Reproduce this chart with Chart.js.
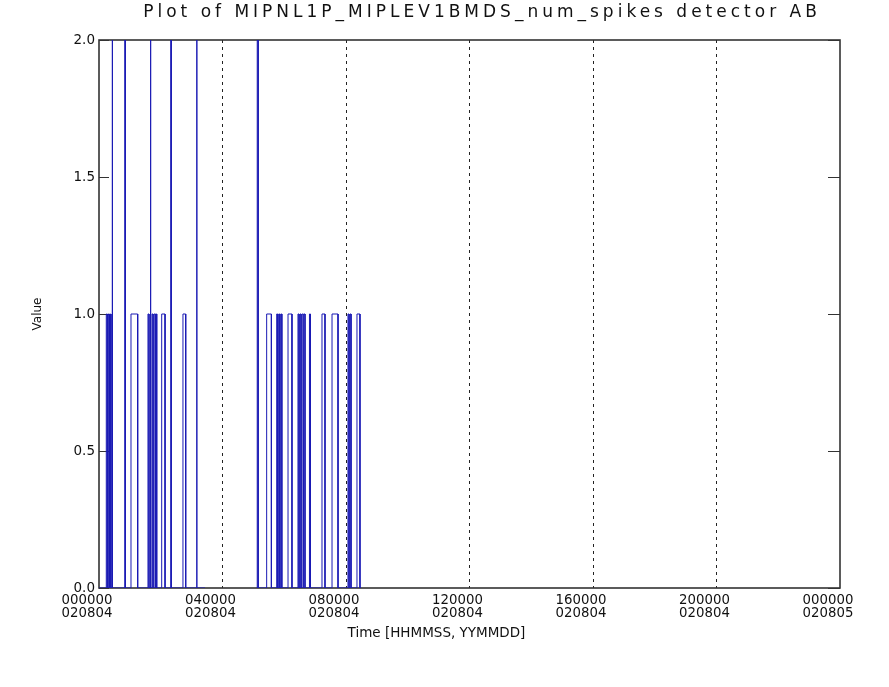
<!DOCTYPE html>
<html>
<head>
<meta charset="utf-8">
<script src="https://cdn.jsdelivr.net/npm/chart.js@4"></script>
<style>
  html, body { margin: 0; padding: 0; background: #ffffff; }
  canvas { display: block; }
</style>
</head>
<body>
<canvas id="c" width="889" height="687"></canvas>
<script>
// ---- data (seconds since 000000 020804) ----
const blockStart = [0, 18390];
const blockEnd   = [12360, 30550];

const pulseStart = [850, 1090, 1330, 1540, 3030, 3730, 5710, 5950, 6030, 6180, 6420, 6610, 7310, 8390, 9790, 11390,
                    18450, 19550, 20720, 20960, 21200, 22040, 23200, 23440, 23680, 23900, 24540, 26000, 27170, 29030, 29270, 30080];
const pulseEnd   = [970, 1210, 1400, 1570, 3060, 4510, 5830, 6010, 6060, 6300, 6540, 6730, 7700, 8420, 10110, 11420,
                    18560, 20100, 20840, 21080, 21320, 22500, 23320, 23560, 23800, 24020, 24660, 26350, 27870, 29150, 29390, 30430];
const pulseValue = [1, 1, 1, 2, 2, 1, 1, 1, 2, 1, 1, 1, 1, 2, 1, 2,
                    2, 1, 1, 1, 1, 1, 1, 1, 1, 1, 1, 1, 1, 1, 1, 1];

const xTickTimes = ['000000', '040000', '080000', '120000', '160000', '200000', '000000'];
const xTickDates = ['020804', '020804', '020804', '020804', '020804', '020804', '020805'];
const yTickLabels = ['0.0', '0.5', '1.0', '1.5', '2.0'];

function buildBlock(b) {
  const pts = [{x: blockStart[b], y: 0}];
  for (let i = 0; i < pulseStart.length; i++) {
    if (pulseStart[i] >= blockStart[b] && pulseEnd[i] <= blockEnd[b]) {
      pts.push({x: pulseStart[i], y: 0}, {x: pulseStart[i], y: pulseValue[i]},
               {x: pulseEnd[i], y: pulseValue[i]}, {x: pulseEnd[i], y: 0});
    }
  }
  pts.push({x: blockEnd[b], y: 0});
  return pts;
}

const lineColor = '#1a1ab4';
const datasets = blockStart.map((_, b) => ({
  data: buildBlock(b),
  borderColor: lineColor,
  borderWidth: 1,
  pointRadius: 0,
  tension: 0,
  fill: false
}));

const framePlugin = {
  id: 'frame',
  afterInit(chart) {
    const tb = chart.titleBlock;
    if (tb) {
      const orig = tb.draw;
      tb.draw = function (...args) {
        const c = this.ctx;
        c.save();
        c.letterSpacing = '4px';
        c.translate(62, 0);
        orig.apply(this, args);
        c.restore();
      };
    }
  },
  beforeDraw(chart) {
    const s = chart.scales.x;
    if (s && !s._titleShifted) {
      const o = s.drawTitle;
      s.drawTitle = function (...args) {
        this.ctx.save();
        this.ctx.translate(-33, 0);
        o.apply(this, args);
        this.ctx.restore();
      };
      s._titleShifted = true;
    }
  },
  beforeDatasetsDraw(chart) {
    const {ctx, chartArea: a, scales: {y}} = chart;
    ctx.save();
    ctx.strokeStyle = '#333333';
    ctx.lineWidth = 1.6;
    ctx.strokeRect(a.left, a.top, a.right - a.left, a.bottom - a.top);
    ctx.lineWidth = 1.2;
    y.ticks.forEach(t => {
      const py = Math.round(y.getPixelForValue(t.value)) + 0.5;
      ctx.beginPath();
      ctx.moveTo(a.left, py); ctx.lineTo(a.left + 10, py);
      ctx.moveTo(a.right, py); ctx.lineTo(a.right - 12, py);
      ctx.stroke();
    });
    ctx.restore();
  }
};

new Chart(document.getElementById('c'), {
  type: 'line',
  data: { datasets },
  plugins: [framePlugin],
  options: {
    responsive: false,
    devicePixelRatio: 1,
    animation: false,
    layout: { padding: { top: 0, right: 49, bottom: 0, left: 0 } },
    plugins: {
      legend: { display: false },
      tooltip: { enabled: false },
      title: {
        display: true,
        text: 'Plot of MIPNL1P_MIPLEV1BMDS_num_spikes detector AB',
        color: '#111111',
        font: { family: 'DejaVu Sans', size: 17, weight: 'normal', lineHeight: 1.2 },
        padding: { top: 2.5, bottom: 17.1 }
      }
    },
    scales: {
      x: {
        type: 'linear',
        min: 0,
        max: 86400,
        afterFit(s) { s.height = 99; },
        afterBuildTicks(s) { s.ticks = xTickTimes.map((_, i) => ({value: i * 14400})); },
        ticks: {
          autoSkip: false,
          maxRotation: 0,
          padding: 6,
          labelOffset: -12,
          color: '#111111',
          font: { family: 'DejaVu Sans', size: 13.3, lineHeight: 1.0 },
          callback: (v, i) => [xTickTimes[i], xTickDates[i]]
        },
        grid: {
          display: true,
          drawTicks: false,
          color: ctx => (ctx.tick && (ctx.tick.value === 0 || ctx.tick.value === 86400)) ? 'rgba(0,0,0,0)' : '#222222',
          lineWidth: 1
        },
        border: { display: false, dash: [3, 4] },
        title: {
          display: true,
          text: 'Time [HHMMSS, YYMMDD]',
          color: '#111111',
          font: { family: 'DejaVu Sans', size: 13.5, lineHeight: 1.2 },
          padding: { top: 0, bottom: 45 }
        }
      },
      y: {
        min: 0,
        max: 2,
        afterFit(s) { s.width = 99; },
        afterBuildTicks(s) { s.ticks = yTickLabels.map((_, i) => ({value: i * 0.5})); },
        ticks: {
          padding: 4,
          color: '#111111',
          font: { family: 'DejaVu Sans', size: 13.5 },
          callback: (v, i) => yTickLabels[i]
        },
        grid: { display: false, drawTicks: false },
        border: { display: false },
        title: {
          display: true,
          text: 'Value',
          color: '#111111',
          font: { family: 'DejaVu Sans', size: 12, lineHeight: 1.2 },
          padding: { top: 31, bottom: 0 }
        }
      }
    }
  }
});
</script>
</body>
</html>
